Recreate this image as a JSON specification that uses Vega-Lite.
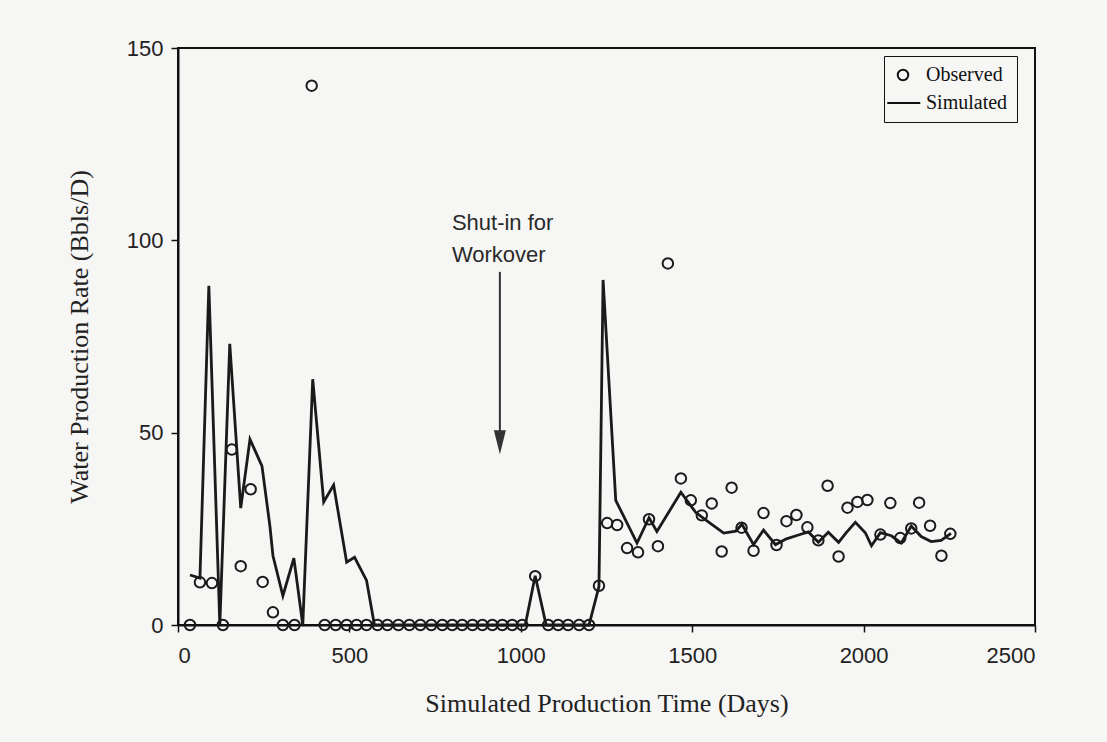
{
  "$schema": "https://vega.github.io/schema/vega-lite/v6.json",
  "width": 857,
  "height": 577,
  "autosize": {"type": "none"},
  "padding": {"left": 178, "top": 48, "right": 72, "bottom": 117},
  "background": "#f6f6f4",
  "config": {
    "view": {"stroke": "#111", "strokeWidth": 2, "fill": "#f6f6f4"},
    "axis": {
      "grid": false,
      "domainColor": "#111",
      "domainWidth": 2,
      "tickColor": "#111",
      "tickWidth": 1.5,
      "tickSize": 7,
      "labelFont": "Liberation Sans",
      "labelFontSize": 22,
      "labelColor": "#222",
      "titleFont": "Liberation Serif",
      "titleFontSize": 26,
      "titleFontWeight": "normal",
      "titleColor": "#222"
    }
  },
  "datasets": {
    "simulated": [
      {"day": 35, "rate": 13.0}, {"day": 64, "rate": 12.2}, {"day": 90, "rate": 88.2},
      {"day": 122, "rate": 0}, {"day": 151, "rate": 73.1}, {"day": 183, "rate": 30.4},
      {"day": 210, "rate": 48.3}, {"day": 245, "rate": 41.3}, {"day": 268, "rate": 25.8},
      {"day": 277, "rate": 18.0}, {"day": 306, "rate": 7.6}, {"day": 338, "rate": 17.4},
      {"day": 364, "rate": 0}, {"day": 393, "rate": 63.9}, {"day": 425, "rate": 32.0},
      {"day": 454, "rate": 36.4}, {"day": 492, "rate": 16.3}, {"day": 515, "rate": 17.6},
      {"day": 550, "rate": 11.6}, {"day": 573, "rate": 0}, {"day": 1013, "rate": 0},
      {"day": 1042, "rate": 12.8}, {"day": 1074, "rate": 0}, {"day": 1199, "rate": 0},
      {"day": 1228, "rate": 10.0}, {"day": 1240, "rate": 89.7}, {"day": 1277, "rate": 32.4},
      {"day": 1339, "rate": 21.3}, {"day": 1374, "rate": 27.9}, {"day": 1397, "rate": 24.3},
      {"day": 1467, "rate": 34.5}, {"day": 1510, "rate": 29.3}, {"day": 1543, "rate": 27.1},
      {"day": 1592, "rate": 23.9}, {"day": 1627, "rate": 24.4}, {"day": 1645, "rate": 26.2},
      {"day": 1679, "rate": 20.9}, {"day": 1708, "rate": 24.7}, {"day": 1743, "rate": 20.9},
      {"day": 1775, "rate": 22.4}, {"day": 1810, "rate": 23.4}, {"day": 1839, "rate": 24.2},
      {"day": 1868, "rate": 21.5}, {"day": 1897, "rate": 24.1}, {"day": 1927, "rate": 21.5},
      {"day": 1950, "rate": 24.1}, {"day": 1976, "rate": 26.7}, {"day": 2005, "rate": 24.0},
      {"day": 2023, "rate": 20.6}, {"day": 2049, "rate": 24.0}, {"day": 2081, "rate": 23.2},
      {"day": 2110, "rate": 21.3}, {"day": 2139, "rate": 25.7}, {"day": 2168, "rate": 23.0},
      {"day": 2197, "rate": 21.7}, {"day": 2226, "rate": 22.0}, {"day": 2255, "rate": 23.8}
    ],
    "observed": [
      {"day": 35, "rate": 0, "series": "Observed"}, {"day": 64, "rate": 11.1, "series": "Observed"},
      {"day": 99, "rate": 10.9, "series": "Observed"}, {"day": 131, "rate": 0, "series": "Observed"},
      {"day": 157, "rate": 45.6, "series": "Observed"}, {"day": 183, "rate": 15.3, "series": "Observed"},
      {"day": 212, "rate": 35.3, "series": "Observed"}, {"day": 247, "rate": 11.2, "series": "Observed"},
      {"day": 277, "rate": 3.3, "series": "Observed"}, {"day": 306, "rate": 0, "series": "Observed"},
      {"day": 340, "rate": 0, "series": "Observed"}, {"day": 390, "rate": 140.2, "series": "Observed"},
      {"day": 428, "rate": 0, "series": "Observed"}, {"day": 460, "rate": 0, "series": "Observed"},
      {"day": 492, "rate": 0, "series": "Observed"}, {"day": 521, "rate": 0, "series": "Observed"},
      {"day": 550, "rate": 0, "series": "Observed"}, {"day": 582, "rate": 0, "series": "Observed"},
      {"day": 611, "rate": 0, "series": "Observed"}, {"day": 643, "rate": 0, "series": "Observed"},
      {"day": 675, "rate": 0, "series": "Observed"}, {"day": 707, "rate": 0, "series": "Observed"},
      {"day": 739, "rate": 0, "series": "Observed"}, {"day": 771, "rate": 0, "series": "Observed"},
      {"day": 800, "rate": 0, "series": "Observed"}, {"day": 829, "rate": 0, "series": "Observed"},
      {"day": 859, "rate": 0, "series": "Observed"}, {"day": 888, "rate": 0, "series": "Observed"},
      {"day": 917, "rate": 0, "series": "Observed"}, {"day": 946, "rate": 0, "series": "Observed"},
      {"day": 975, "rate": 0, "series": "Observed"}, {"day": 1004, "rate": 0, "series": "Observed"},
      {"day": 1042, "rate": 12.7, "series": "Observed"}, {"day": 1080, "rate": 0, "series": "Observed"},
      {"day": 1109, "rate": 0, "series": "Observed"}, {"day": 1138, "rate": 0, "series": "Observed"},
      {"day": 1170, "rate": 0, "series": "Observed"}, {"day": 1199, "rate": 0, "series": "Observed"},
      {"day": 1228, "rate": 10.2, "series": "Observed"}, {"day": 1252, "rate": 26.5, "series": "Observed"},
      {"day": 1281, "rate": 26.0, "series": "Observed"}, {"day": 1310, "rate": 20.0, "series": "Observed"},
      {"day": 1342, "rate": 18.9, "series": "Observed"}, {"day": 1374, "rate": 27.5, "series": "Observed"},
      {"day": 1400, "rate": 20.5, "series": "Observed"}, {"day": 1429, "rate": 94.0, "series": "Observed"},
      {"day": 1467, "rate": 38.1, "series": "Observed"}, {"day": 1496, "rate": 32.4, "series": "Observed"},
      {"day": 1528, "rate": 28.5, "series": "Observed"}, {"day": 1557, "rate": 31.6, "series": "Observed"},
      {"day": 1586, "rate": 19.1, "series": "Observed"}, {"day": 1615, "rate": 35.7, "series": "Observed"},
      {"day": 1644, "rate": 25.3, "series": "Observed"}, {"day": 1679, "rate": 19.3, "series": "Observed"},
      {"day": 1708, "rate": 29.1, "series": "Observed"}, {"day": 1746, "rate": 20.8, "series": "Observed"},
      {"day": 1775, "rate": 27.0, "series": "Observed"}, {"day": 1804, "rate": 28.6, "series": "Observed"},
      {"day": 1836, "rate": 25.4, "series": "Observed"}, {"day": 1868, "rate": 22.0, "series": "Observed"},
      {"day": 1895, "rate": 36.2, "series": "Observed"}, {"day": 1927, "rate": 17.8, "series": "Observed"},
      {"day": 1953, "rate": 30.5, "series": "Observed"}, {"day": 1982, "rate": 32.0, "series": "Observed"},
      {"day": 2011, "rate": 32.5, "series": "Observed"}, {"day": 2049, "rate": 23.5, "series": "Observed"},
      {"day": 2078, "rate": 31.7, "series": "Observed"}, {"day": 2107, "rate": 22.6, "series": "Observed"},
      {"day": 2139, "rate": 25.1, "series": "Observed"}, {"day": 2162, "rate": 31.8, "series": "Observed"},
      {"day": 2194, "rate": 25.8, "series": "Observed"}, {"day": 2227, "rate": 18.0, "series": "Observed"},
      {"day": 2253, "rate": 23.7, "series": "Observed"}
    ],
    "note": [
      {"day": 799, "rate": 102.7, "label": ["Shut-in for", "Workover"]}
    ],
    "arrow": [
      {"day": 939, "rate": 91.8, "rate2": 48.0}
    ]
  },
  "layer": [
    {
      "data": {"name": "simulated"},
      "mark": {"type": "line", "color": "#1a1a1a", "strokeWidth": 2.8, "strokeJoin": "miter"},
      "encoding": {
        "x": {
          "field": "day", "type": "quantitative",
          "scale": {"domain": [0, 2500], "nice": false},
          "axis": {"values": [0, 500, 1000, 1500, 2000, 2500], "format": "d", "title": "Simulated Production Time (Days)", "labelPadding": 13, "titlePadding": 24}
        },
        "y": {
          "field": "rate", "type": "quantitative",
          "scale": {"domain": [0, 150], "nice": false},
          "axis": {"values": [0, 50, 100, 150], "format": "d", "title": "Water Production Rate (Bbls/D)", "labelPadding": 8, "titlePadding": 34}
        }
      }
    },
    {
      "data": {"name": "observed"},
      "mark": {"type": "point", "filled": false, "stroke": "#1a1a1a", "strokeWidth": 2, "size": 110, "opacity": 1},
      "encoding": {
        "x": {"field": "day", "type": "quantitative"},
        "y": {"field": "rate", "type": "quantitative"},
        "shape": {
          "field": "series", "type": "nominal",
          "scale": {"domain": ["Observed", "Simulated"], "range": ["circle", "M-3.0,0H3.3"]},
          "legend": {
            "orient": "none",
            "legendX": 706,
            "legendY": 8,
            "title": null,
            "strokeColor": "#111",
            "fillColor": "#f6f6f4",
            "padding": 9,
            "rowPadding": 8,
            "labelFont": "Liberation Serif",
            "labelFontSize": 20,
            "labelColor": "#111",
            "labelOffset": 13,
            "symbolSize": 110,
            "symbolStrokeColor": "#111",
            "symbolStrokeWidth": 2,
            "symbolFillColor": "transparent",
            "encode": {
              "legend": {"update": {"strokeWidth": {"value": 1.5}}}
            }
          }
        }
      }
    },
    {
      "data": {"name": "arrow"},
      "mark": {"type": "rule", "color": "#333", "strokeWidth": 2},
      "encoding": {
        "x": {"field": "day", "type": "quantitative"},
        "y": {"field": "rate", "type": "quantitative"},
        "y2": {"field": "rate2"}
      }
    },
    {
      "data": {"name": "arrow"},
      "mark": {"type": "point", "shape": "M-0.5,-1L0.5,-1L0,1Z", "filled": true, "color": "#333", "size": 576, "opacity": 1, "yOffset": 2},
      "encoding": {
        "x": {"field": "day", "type": "quantitative"},
        "y": {"field": "rate2", "type": "quantitative"}
      }
    },
    {
      "data": {"name": "note"},
      "mark": {"type": "text", "align": "left", "baseline": "alphabetic", "font": "Liberation Sans", "fontSize": 22, "lineHeight": 32, "color": "#2a2a2a"},
      "encoding": {
        "x": {"field": "day", "type": "quantitative"},
        "y": {"field": "rate", "type": "quantitative"},
        "text": {"field": "label"}
      }
    }
  ]
}
